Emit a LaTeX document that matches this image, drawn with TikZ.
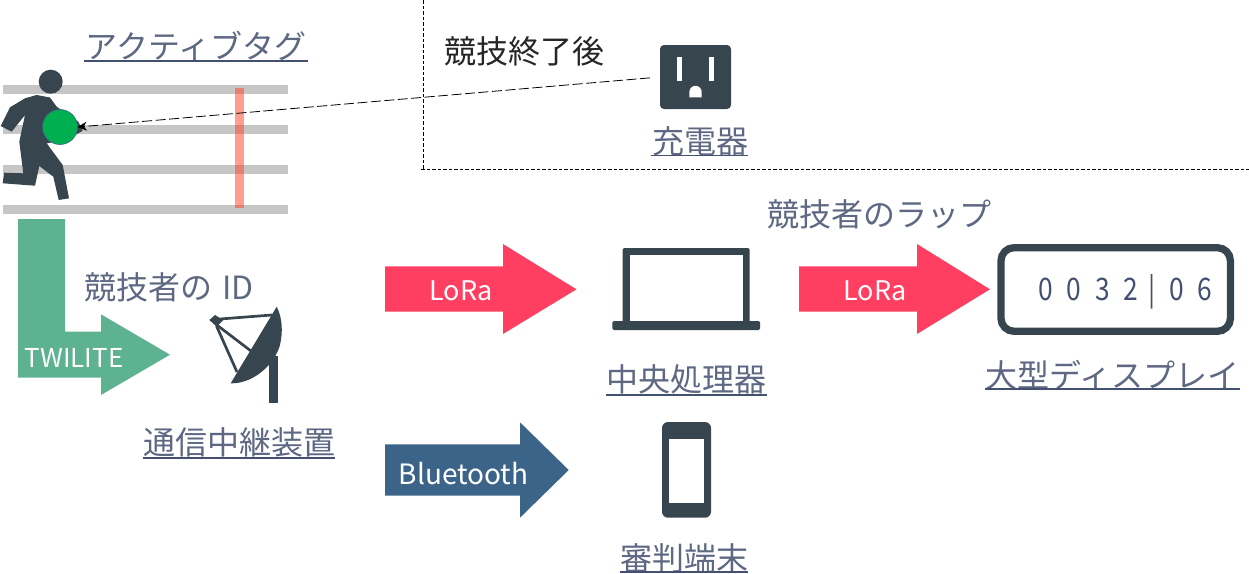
\documentclass[tikz,border=0pt]{standalone}
\usepackage{fontspec}
\setmainfont{Noto Sans CJK JP}
\usetikzlibrary{arrows.meta}
\definecolor{ink}{HTML}{37454F}
\definecolor{txt}{HTML}{5E6883}
\definecolor{ulc}{HTML}{44506F}
\definecolor{trk}{HTML}{C6C6C6}
\definecolor{grn}{HTML}{5DB291}
\definecolor{lora}{HTML}{FF3F62}
\definecolor{blu}{HTML}{3C6489}
\definecolor{tagc}{HTML}{00B050}
\definecolor{bar}{HTML}{FF3B20}
\newcommand{\fs}[1]{\fontsize{#1}{#1}\selectfont}
\tikzset{
  x=1pt,y=-1pt,
  captxt/.style={text=txt,inner sep=0pt,font=\fs{32}},
  ulin/.style={draw=ulc,line width=1.8pt},
  trackbar/.style={fill=trk},
  icon/.style={fill=ink},
  hole/.style={fill=white},
  blocktext/.style={text=white,inner sep=0pt},
  framed/.style={draw=black,line width=.8pt,dash pattern=on 3.5pt off 2pt},
}
\begin{document}
\begin{tikzpicture}
\useasboundingbox (0,0) rectangle (1249,573);
% frame
\draw[framed] (423.5,0) -- (423.5,169.5);
\draw[framed] (421,169.5) -- (1249,169.5);
% track
\foreach \yy in {85,125,165,205} \fill[trackbar] (3,\yy) rectangle (288,\yy+9);
\fill[bar,fill opacity=.5] (235,88) rectangle (244,207.5);
% runner
\fill[icon] (50.7,81.7) circle[radius=12];
\fill[icon] (36.7,95) -- (50,97.5) -- (56.7,106.7) -- (78.3,121.7) -- (82.7,130.7) -- (66.7,140) -- (46.7,143.3) -- (62.7,165) -- (69,198.3) -- (58.7,200) -- (53.3,176.7) -- (39.3,166) -- (35,185.7) -- (2.7,183.3) -- (4,172.7) -- (23.3,173.3) -- (19.3,141.7) -- (25,115) -- (11.7,131.7) -- (.7,126) -- (10,107.3) -- (25,98.3) -- cycle;
\node[circle,fill=tagc,draw=blu,line width=.6pt,minimum size=35pt,inner sep=0pt] (tag) at (60,127) {};
% charger
\node[fill=ink,rounded corners=4pt,minimum width=71pt,minimum height=64pt,inner sep=0pt] (charger) at (695.5,77) {};
\fill[hole] (677.3,57.3) rectangle (682,80.7);
\fill[hole] (709,57.3) rectangle (714,80.7);
\fill[hole] (689.3,97.3) -- (689.3,92) arc[start angle=180,end angle=360,radius=6.2] -- (701.7,97.3) -- cycle;
\draw[black,line width=.8pt,dash pattern=on 10pt off 3.5pt,shorten <=10pt,-{Stealth[length=9pt,width=9pt]}] (charger.west) -- (tag.east);
% block arrows
\fill[grn] (18,219) -- (65,219) -- (65,331.7) -- (101,331.7) -- (101,314.3) -- (170,354.7) -- (101,395) -- (101,377.5) -- (18,377.5) -- cycle;
\node[blocktext,font=\fs{26}] (twl) at (74,358) {TWILITE};
\fill[lora] (385,266.3) -- (503,266.3) -- (503,244) -- (576.5,289.3) -- (503,334) -- (503,311.7) -- (385,311.7) -- cycle;
\node[blocktext,font=\fs{27}] (lora1) at (461,291) {LoRa};
\fill[lora] (799,266.3) -- (917,266.3) -- (917,244) -- (990,289.3) -- (917,334) -- (917,311.7) -- (799,311.7) -- cycle;
\node[blocktext,font=\fs{27}] (lora2) at (875,291) {LoRa};
\fill[blu] (385,444.3) -- (520,444.3) -- (520,422.3) -- (568.7,470) -- (520,517.7) -- (520,495.7) -- (385,495.7) -- cycle;
\node[blocktext,font=\fs{28}] (bt) at (463.5,473.5) {Bluetooth};
% dish
\fill[icon] (269,356) rectangle (277.5,402.7);
\fill[icon] (276.7,306.7) .. controls (282.5,318) and (283,332) .. (280,345) .. controls (274,366) and (252,384) .. (230.7,383.3) -- cycle;
\fill[icon] (209.3,320) -- (215,315) -- (223.3,320) -- (216.7,326.7) -- cycle;
\draw[ink,line width=2.7pt] (220,319) -- (272,315);
\draw[ink,line width=2.7pt] (217.5,325.5) -- (251,351);
\draw[ink,line width=2.7pt] (216.5,326) -- (237,372);
% laptop
\fill[icon,rounded corners=1.5pt] (622.7,248) rectangle (749.7,325);
\fill[hole] (629.8,255) rectangle (743.4,321);
\fill[icon,rounded corners=1.5pt] (612.4,321) rectangle (760,330);
% display
\draw[ink,line width=7.3pt,rounded corners=13pt] (1001,247.7) rectangle (1230.4,331.3);
\node[text=ulc,inner sep=0pt,font=\fs{31}] (num) at (1125.5,292) {\scalebox{.85}[1]{0\hspace{16pt}0\hspace{16pt}3\hspace{16pt}2\hspace{12pt}|\hspace{17pt}0\hspace{16pt}6}};
% phone
\fill[icon,rounded corners=6pt] (662,422) rectangle (711,517.7);
\fill[hole] (669,438.7) rectangle (704,503);
% texts
\node[captxt,text=black!85] (end) at (524,51) {競技終了後};
\node[captxt] (lap) at (879,214) {競技者のラップ};
\node[captxt] (id) at (169,287) {競技者の\hspace{3pt} ID};
\node[captxt] (c1) at (196,46) {アクティブタグ};
\draw[ulin] (84,61) -- (308,61);
\node[captxt] (c2) at (700,141) {充電器};
\draw[ulin] (651,155.5) -- (748,155.5);
\node[captxt] (c3) at (239,442) {通信中継装置};
\draw[ulin] (143,457.7) -- (335,457.7);
\node[captxt] (c4) at (686.5,379) {中央処理器};
\draw[ulin] (606,394.7) -- (767,394.7);
\node[captxt] (c5) at (1112.5,375) {大型ディスプレイ};
\draw[ulin] (985,389) -- (1240,389);
\node[captxt] (c6) at (684,558) {審判端末};
\draw[ulin] (620,572) -- (748,572);
\end{tikzpicture}
\end{document}
